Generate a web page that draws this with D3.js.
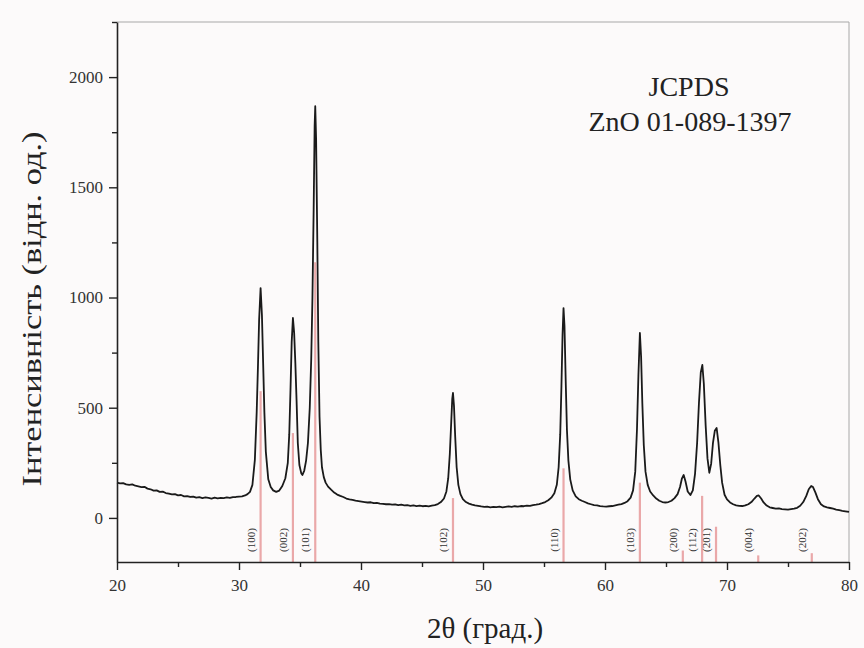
<!DOCTYPE html>
<html><head><meta charset="utf-8">
<script src="https://cdn.jsdelivr.net/npm/d3@7"></script>
<style>body{margin:0;background:#fcfafa}svg{display:block}</style>
</head><body>
<svg id="c" width="864" height="648"></svg>
<script>
// ---- data ----
const scanAngle = [20.0,20.25,20.5,20.75,21.0,21.25,21.5,21.75,22.0,22.25,22.5,22.75,23.0,23.25,23.5,23.75,24.0,24.25,24.5,24.75,25.0,25.25,25.5,25.75,26.0,26.25,26.5,26.75,27.0,27.25,27.5,27.75,28.0,28.25,28.5,28.75,29.0,29.25,29.5,29.75,30.0,30.25,30.5,30.7,30.9,31.1,31.3,31.45,31.55,31.65,31.77,31.88,31.98,32.08,32.2,32.4,32.6,32.8,33.05,33.3,33.55,33.8,34.0,34.12,34.22,34.32,34.42,34.52,34.62,34.72,34.82,34.95,35.1,35.2,35.35,35.5,35.65,35.8,35.92,36.02,36.12,36.2,36.25,36.32,36.42,36.5,36.6,36.7,36.8,36.95,37.1,37.3,37.55,37.8,38.05,38.3,38.55,38.8,39.05,39.3,39.55,39.8,40.05,40.3,40.55,40.8,41.05,41.3,41.55,41.8,42.05,42.3,42.55,42.8,43.05,43.3,43.55,43.8,44.05,44.3,44.55,44.8,45.05,45.3,45.55,45.8,46.05,46.3,46.55,46.8,47.0,47.15,47.28,47.4,47.48,47.54,47.62,47.72,47.84,47.98,48.15,48.35,48.6,48.85,49.1,49.35,49.6,49.85,50.1,50.35,50.6,50.85,51.1,51.35,51.6,51.85,52.1,52.35,52.6,52.85,53.1,53.35,53.6,53.85,54.1,54.35,54.6,54.85,55.1,55.35,55.6,55.85,56.05,56.2,56.33,56.43,56.52,56.6,56.68,56.78,56.88,57.0,57.15,57.35,57.6,57.85,58.1,58.35,58.6,58.85,59.1,59.35,59.6,59.85,60.1,60.35,60.6,60.85,61.1,61.35,61.6,61.85,62.1,62.3,62.48,62.62,62.74,62.86,62.96,63.06,63.18,63.32,63.5,63.7,63.95,64.2,64.45,64.7,64.95,65.2,65.45,65.7,65.95,66.15,66.3,66.45,66.6,66.78,67.0,67.2,67.38,67.55,67.7,67.85,67.98,68.1,68.25,68.4,68.55,68.7,68.85,69.0,69.15,69.3,69.45,69.6,69.8,70.0,70.25,70.5,70.75,71.0,71.25,71.5,71.75,72.0,72.25,72.45,72.6,72.8,73.0,73.25,73.5,73.75,74.0,74.25,74.5,74.75,75.0,75.25,75.5,75.75,76.0,76.25,76.5,76.7,76.9,77.05,77.25,77.45,77.7,77.95,78.2,78.45,78.7,78.95,79.2,79.45,79.7,80.0];
const scanIntensity = [160,157,158,152,150,152,146,143,140,141,133,130,124,125,118,119,113,110,107,108,102,104,98,99,95,97,92,94,90,93,91,88,92,89,91,90,93,91,94,95,97,98,102,108,118,150,263,480,680,900,1043,920,700,480,300,175,140,125,118,124,145,180,250,380,580,800,907,840,700,530,340,240,203,195,215,260,340,500,720,1000,1400,1780,1868,1720,1250,800,460,310,230,185,160,142,128,115,106,100,95,88,84,82,78,76,74,72,70,71,67,68,65,64,62,63,60,61,58,60,57,58,55,57,54,56,53,55,52,56,58,63,72,88,120,180,290,440,540,567,510,370,230,150,108,85,72,65,60,57,55,52,50,51,48,50,49,51,48,50,52,50,53,51,54,53,56,55,58,60,63,67,72,80,92,112,150,230,380,600,830,952,870,620,400,260,175,125,98,85,78,72,66,62,58,57,54,52,51,53,54,57,60,63,68,76,92,125,210,400,650,839,730,520,330,210,150,120,102,88,78,72,70,72,78,90,108,140,178,195,165,120,104,125,200,340,520,660,694,610,420,270,205,245,340,395,408,340,240,160,105,84,70,62,57,55,54,57,62,72,88,100,102,88,70,56,48,45,42,43,40,39,38,40,42,46,55,72,100,130,145,140,115,85,62,52,48,45,42,38,35,32,30,27];

const hklLabels = ["(100)","(002)","(101)","(102)","(110)","(103)","(200)","(112)","(201)","(004)","(202)"];
const refAngle = [31.77,34.42,36.25,47.54,56.60,62.86,66.38,67.96,69.10,72.56,76.95];
const refIntensity = [575,385,1160,90,225,160,-148,100,-40,-170,-160];

const xMajorTicks = [20,30,40,50,60,70,80];
const xMinorTicks = [25,35,45,55,65,75];
const yMajorTicks = [0,500,1000,1500,2000];
const yMinorTicks = [250,750,1250,1750,2250];

const xTitle = "2θ (град.)";
const yTitle = "Інтенсивність (відн. од.)";
const noteLines = ["JCPDS","ZnO 01-089-1397"];

// ---- layout ----
const L = 117, R = 849, T = 22, B = 562;
const x = d3.scaleLinear().domain([20,80]).range([L,R]);
const y = d3.scaleLinear().domain([-200,2250]).range([B,T]);
const svg = d3.select("#c");
const serif = "'Liberation Serif','Times New Roman',serif";

svg.append("rect").attr("width",864).attr("height",648).attr("fill","#fcfafa");

// frame top/right
svg.append("path").attr("d",`M${L},${T}H${R}V${B}`).attr("fill","none").attr("stroke","#a8a8a8").attr("stroke-width",1);

// curve
const pts = scanAngle.map((a,i)=>[a,scanIntensity[i]]);
svg.append("path").datum(pts)
  .attr("d", d3.line().x(d=>x(d[0])).y(d=>y(d[1])))
  .attr("fill","none").attr("stroke","#1a1a1a").attr("stroke-width",1.8).attr("stroke-linejoin","round");

// reference lines
const refs = refAngle.map((a,i)=>({a, v:refIntensity[i], t:hklLabels[i]}));
svg.append("g").selectAll("line").data(refs).join("line")
  .attr("x1",d=>x(d.a)).attr("x2",d=>x(d.a))
  .attr("y1",y(-200)).attr("y2",d=>y(d.v))
  .attr("stroke","#e89a9c").attr("stroke-width",2.2).attr("opacity",0.85);

svg.append("g").selectAll("text").data(refs).join("text")
  .attr("transform",d=>`translate(${x(d.a)-6},540) rotate(-90)`)
  .attr("text-anchor","middle")
  .attr("font-family",serif).attr("font-size",11).attr("fill","#333")
  .text(d=>d.t);

// axes
function styleAxis(g){
  g.selectAll("path.domain").attr("stroke","#222").attr("stroke-width",1.6);
  g.selectAll(".tick line").attr("stroke","#222").attr("stroke-width",1.4);
  g.selectAll(".tick text").attr("font-family",serif).attr("font-size",17).attr("fill","#333");
}
const gx = svg.append("g").attr("transform",`translate(0,${B})`)
  .call(d3.axisBottom(x).tickValues(xMajorTicks).tickSize(8).tickSizeOuter(0).tickPadding(9).tickFormat(d3.format("d")));
styleAxis(gx);
const gxm = svg.append("g").attr("transform",`translate(0,${B})`)
  .call(d3.axisBottom(x).tickValues(xMinorTicks).tickSize(5).tickFormat(""));
gxm.select("path.domain").remove(); styleAxis(gxm);

const gy = svg.append("g").attr("transform",`translate(${L},0)`)
  .call(d3.axisLeft(y).tickValues(yMajorTicks).tickSize(8).tickSizeOuter(0).tickPadding(6).tickFormat(d3.format("d")));
styleAxis(gy);
const gym = svg.append("g").attr("transform",`translate(${L},0)`)
  .call(d3.axisLeft(y).tickValues(yMinorTicks).tickSize(5).tickFormat(""));
gym.select("path.domain").remove(); styleAxis(gym);

// titles
svg.append("text").attr("x",485).attr("y",638).attr("text-anchor","middle")
  .attr("font-family",serif).attr("font-size",29).attr("fill","#222").text(xTitle);
svg.append("text").attr("transform",`translate(41,309) rotate(-90)`).attr("text-anchor","middle")
  .attr("font-family",serif).attr("font-size",28).attr("fill","#222")
  .attr("textLength",355).attr("lengthAdjust","spacingAndGlyphs").text(yTitle);

// annotation
svg.append("text").attr("x",689).attr("y",96).attr("text-anchor","middle")
  .attr("font-family",serif).attr("font-size",28).attr("fill","#222").text(noteLines[0]);
svg.append("text").attr("x",690).attr("y",131).attr("text-anchor","middle")
  .attr("font-family",serif).attr("font-size",28).attr("fill","#222").text(noteLines[1]);
</script>
</body></html>
